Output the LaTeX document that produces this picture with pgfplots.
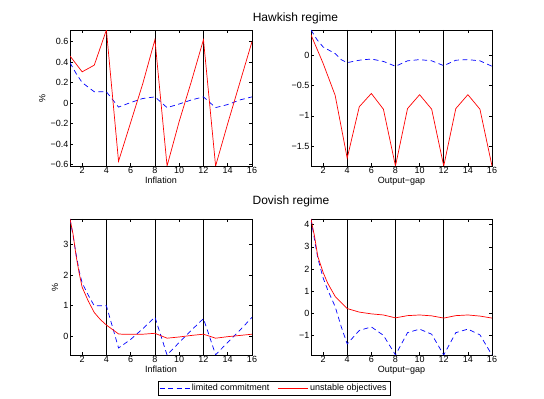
\documentclass[border=0pt]{standalone}
\usepackage{fontspec}
\setmainfont{Liberation Sans}
\usepackage{pgfplots}
\pgfplotsset{compat=1.18}
\definecolor{mblue}{rgb}{0,0,1}
\definecolor{mred}{rgb}{1,0,0}
\pgfplotsset{
  mystyle/.style={
    scale only axis, height=136bp,
    xmin=1, xmax=16, xtick={2,4,...,16}, xticklabels={2,4,6,8,10,12,14,16},
    tick align=inside, major tick length=3bp,
    axis line style={black, line width=0.6bp},
    every tick/.style={black, line width=0.6bp},
    ticklabel style={font=\fontsize{9bp}{10bp}\selectfont, inner sep=1.5bp},
    label style={font=\fontsize{9bp}{10bp}\selectfont},
    xlabel style={inner sep=1bp},
    /pgf/number format/assume math mode=true,
    anchor=south west,
  },
  bl/.style={mblue, line width=0.7bp, dash pattern=on 5bp off 3.5bp},
  rd/.style={mred, line width=0.7bp},
  vl/.style={black, line width=0.8bp, forget plot},
}
\begin{document}
\begin{tikzpicture}
\path[use as bounding box] (0,0) rectangle (544bp,399bp);
% ---------------- Top left
\begin{axis}[mystyle, width=182bp, at={(70bp,233bp)},
  ymin=-0.616, ymax=0.714, ytick={-0.6,-0.4,-0.2,0,0.2,0.4,0.6},
  yticklabels={−0.6,−0.4,−0.2,0,0.2,0.4,0.6},
  xlabel={Inflation}, ylabel={\%}]
\addplot[vl] coordinates {(4,-0.616) (4,0.714)};
\addplot[vl] coordinates {(8,-0.616) (8,0.714)};
\addplot[vl] coordinates {(12,-0.616) (12,0.714)};
\addplot[bl] coordinates {(1,0.394) (1.5,0.29) (2,0.2) (3,0.11) (4,0.11) (5,-0.04) (6,0.005) (7,0.044) (8,0.06) (9,-0.045) (10,-0.01) (11,0.03) (12,0.06) (13,-0.045) (14,-0.015) (15,0.03) (16,0.06)};
\addplot[rd] coordinates {(1,0.46) (2,0.305) (3,0.37) (4,0.714) (5,-0.57) (6,-0.19) (7,0.19) (8,0.62) (9,-0.616) (10,-0.18) (11,0.21) (12,0.62) (13,-0.616) (14,-0.2) (15,0.2) (16,0.6)};
\end{axis}
% ---------------- Top right
\begin{axis}[mystyle, width=181bp, at={(311bp,233bp)},
  ymin=-1.83, ymax=0.42, ytick={-1.5,-1,-0.5,0},
  yticklabels={−1.5,−1,−0.5,0},
  xlabel={Output−gap}]
\addplot[vl] coordinates {(4,-1.83) (4,0.42)};
\addplot[vl] coordinates {(8,-1.83) (8,0.42)};
\addplot[vl] coordinates {(12,-1.83) (12,0.42)};
\addplot[bl] coordinates {(1,0.42) (1.5,0.26) (2,0.14) (3,0.03) (3.5,-0.07) (4,-0.12) (5,-0.08) (6,-0.06) (7,-0.1) (8,-0.18) (9,-0.09) (10,-0.07) (11,-0.09) (12,-0.17) (13,-0.08) (14,-0.07) (15,-0.09) (16,-0.18)};
\addplot[rd] coordinates {(1,0.34) (2,-0.13) (3,-0.66) (4,-1.7) (5,-0.85) (6,-0.63) (7,-0.89) (8,-1.83) (9,-0.88) (10,-0.65) (11,-0.89) (12,-1.83) (13,-0.88) (14,-0.65) (15,-0.89) (16,-1.83)};
\end{axis}
% ---------------- Bottom left
\begin{axis}[mystyle, width=182bp, at={(70bp,44bp)},
  ymin=-0.61, ymax=3.84, ytick={0,1,2,3},
  yticklabels={0,1,2,3},
  xlabel={Inflation}, ylabel={\%},
  legend style={at={(1.121,-0.246)}, anchor=center, draw=black, line width=0.6bp,
    font=\fontsize{9bp}{10bp}\selectfont, inner sep=1.2bp, row sep=0pt,
    /tikz/every even column/.append style={column sep=6bp}},
  legend columns=2,
  legend image code/.code={\draw[#1] (0bp,0bp) -- (30bp,0bp);}]
\addplot[vl] coordinates {(4,-0.61) (4,3.84)};
\addplot[vl] coordinates {(8,-0.61) (8,3.84)};
\addplot[vl] coordinates {(12,-0.61) (12,3.84)};
\addplot[bl] coordinates {(1,3.84) (1.25,3.3) (1.5,2.7) (1.75,2.15) (2,1.75) (2.5,1.35) (3,1.0) (4,1.0) (5,-0.38) (6,-0.1) (7,0.25) (8,0.63) (9,-0.61) (10,-0.2) (11,0.2) (12,0.58) (13,-0.6) (14,-0.2) (15,0.2) (16,0.62)};
\addlegendentry{limited commitment}
\addplot[rd] coordinates {(1,3.84) (1.25,3.35) (1.5,2.64) (1.75,2.08) (2,1.61) (2.5,1.16) (3,0.78) (3.5,0.55) (4,0.37) (5,0.08) (5.3,0.07) (6,0.07) (7,0.07) (8,0.1) (9,-0.06) (10,-0.02) (11,0.03) (12,0.07) (13,-0.06) (14,-0.01) (15,0.03) (16,0.07)};
\addlegendentry{unstable objectives}
\end{axis}
% ---------------- Bottom right
\begin{axis}[mystyle, width=181bp, at={(311bp,44bp)},
  ymin=-1.89, ymax=4.26, ytick={-1,0,1,2,3,4},
  yticklabels={−1,0,1,2,3,4},
  xlabel={Output−gap}]
\addplot[vl] coordinates {(4,-1.89) (4,4.26)};
\addplot[vl] coordinates {(8,-1.89) (8,4.26)};
\addplot[vl] coordinates {(12,-1.89) (12,4.26)};
\addplot[bl] coordinates {(1,4.26) (1.29,3.33) (1.56,2.5) (2,1.6) (2.38,1.06) (3,0.3) (3.5,-0.6) (4,-1.39) (5,-0.78) (6,-0.62) (7,-1.0) (8,-1.89) (9,-0.88) (10,-0.72) (11,-0.95) (12,-1.89) (13,-0.88) (14,-0.72) (15,-0.98) (16,-1.89)};
\addplot[rd] coordinates {(1,4.26) (1.29,3.48) (1.56,2.58) (2,1.85) (2.38,1.36) (3,0.76) (4,0.21) (5,0.05) (6,-0.03) (7,-0.08) (8,-0.21) (9,-0.11) (10,-0.08) (11,-0.12) (12,-0.22) (13,-0.11) (14,-0.08) (15,-0.13) (16,-0.22)};
\end{axis}
\node[anchor=base, font=\fontsize{12bp}{14bp}\selectfont, inner sep=0pt] at (295.5bp,377bp) {Hawkish regime};
\node[anchor=base, font=\fontsize{12bp}{14bp}\selectfont, inner sep=0pt] at (291bp,194bp) {Dovish regime};
\end{tikzpicture}
\end{document}
